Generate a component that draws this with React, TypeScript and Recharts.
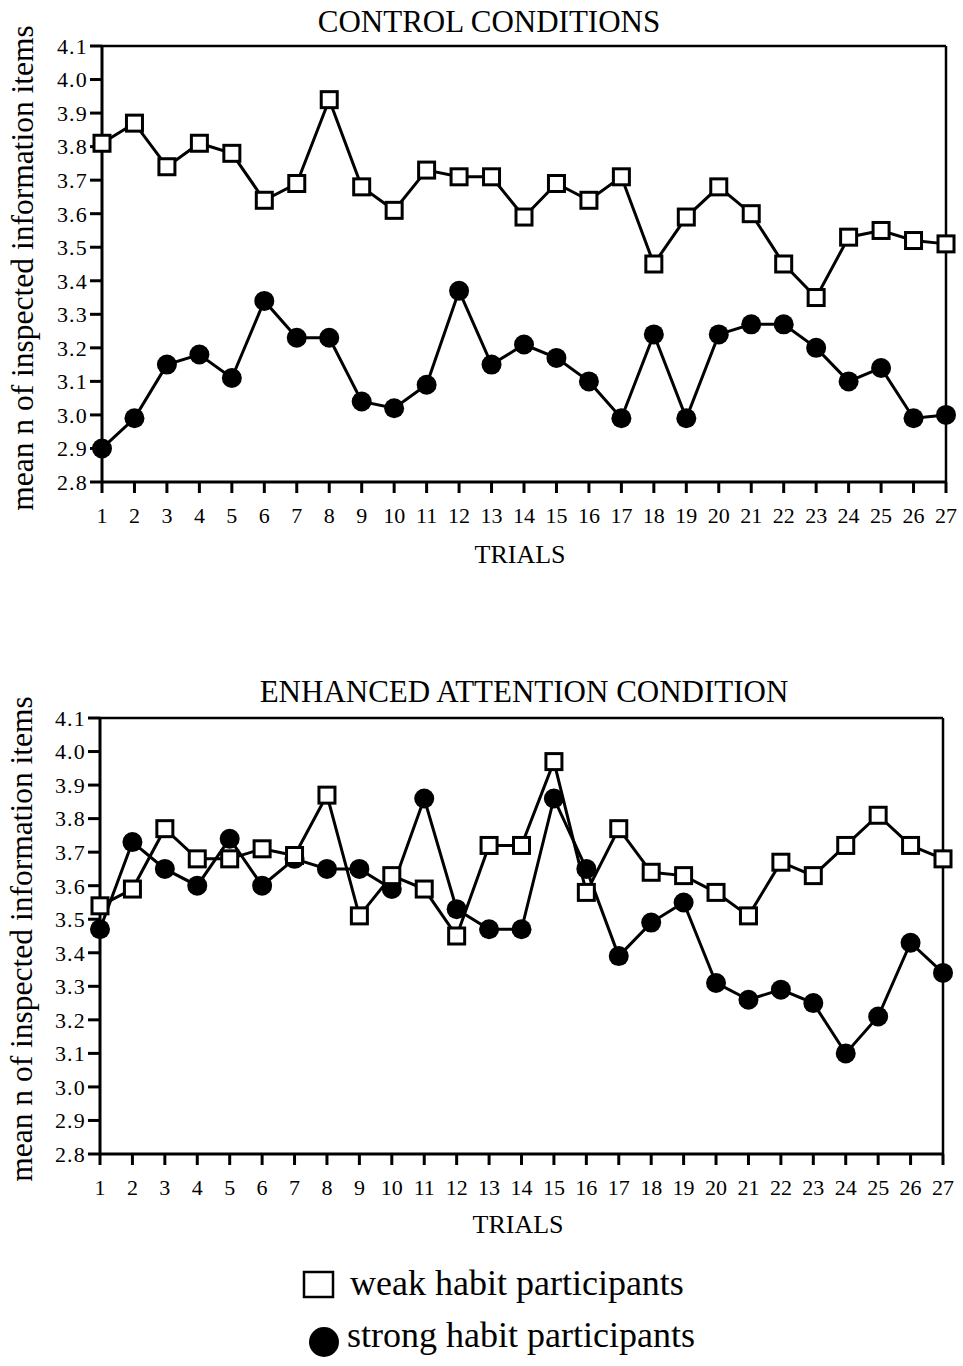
import React from 'react';
import { LineChart, Line, XAxis, YAxis, ReferenceLine } from 'recharts';

const trials = [1, 2, 3, 4, 5, 6, 7, 8, 9, 10, 11, 12, 13, 14, 15, 16, 17, 18, 19, 20, 21, 22, 23, 24, 25, 26, 27];
const yTicks = [2.8, 2.9, 3.0, 3.1, 3.2, 3.3, 3.4, 3.5, 3.6, 3.7, 3.8, 3.9, 4.0, 4.1];

const controlWeak = [3.81, 3.87, 3.74, 3.81, 3.78, 3.64, 3.69, 3.94, 3.68, 3.61, 3.73, 3.71, 3.71, 3.59, 3.69, 3.64, 3.71, 3.45, 3.59, 3.68, 3.60, 3.45, 3.35, 3.53, 3.55, 3.52, 3.51];
const controlStrong = [2.90, 2.99, 3.15, 3.18, 3.11, 3.34, 3.23, 3.23, 3.04, 3.02, 3.09, 3.37, 3.15, 3.21, 3.17, 3.10, 2.99, 3.24, 2.99, 3.24, 3.27, 3.27, 3.20, 3.10, 3.14, 2.99, 3.00];
const attentionWeak = [3.54, 3.59, 3.77, 3.68, 3.68, 3.71, 3.69, 3.87, 3.51, 3.63, 3.59, 3.45, 3.72, 3.72, 3.97, 3.58, 3.77, 3.64, 3.63, 3.58, 3.51, 3.67, 3.63, 3.72, 3.81, 3.72, 3.68];
const attentionStrong = [3.47, 3.73, 3.65, 3.60, 3.74, 3.60, 3.68, 3.65, 3.65, 3.59, 3.86, 3.53, 3.47, 3.47, 3.86, 3.65, 3.39, 3.49, 3.55, 3.31, 3.26, 3.29, 3.25, 3.10, 3.21, 3.43, 3.34];

const topTitle = 'CONTROL CONDITIONS';
const bottomTitle = 'ENHANCED ATTENTION CONDITION';
const yLabel = 'mean n of inspected information items';
const xLabel = 'TRIALS';
const weakName = 'weak habit participants';
const strongName = 'strong habit participants';

const FONT = "'Liberation Serif', 'Times New Roman', Times, serif";

function SquareDot(props: any) {
  const { cx, cy, index } = props;
  if (cx == null || cy == null) return <g key={`sq-${index}`} />;
  return (
    <rect
      key={`sq-${index}`}
      x={cx - 8}
      y={cy - 8}
      width={16}
      height={16}
      fill="#fff"
      stroke="#000"
      strokeWidth={3}
    />
  );
}

type PanelProps = {
  weak: number[];
  strong: number[];
  height: number;
  margin: { top: number; right: number; bottom: number; left: number };
};

function Panel({ weak, strong, height, margin }: PanelProps) {
  const data = trials.map((t, i) => ({ trial: t, weak: weak[i], strong: strong[i] }));
  return (
    <LineChart width={963} height={height} data={data} margin={margin}>
      <XAxis
        dataKey="trial"
        type="number"
        domain={[1, 27]}
        ticks={trials}
        interval={0}
        height={40}
        tickSize={11}
        tickMargin={14}
        axisLine={{ stroke: '#000', strokeWidth: 3 }}
        tickLine={{ stroke: '#000', strokeWidth: 3 }}
        tick={{ fill: '#000', fontSize: 22, fontFamily: FONT }}
      />
      <YAxis
        type="number"
        domain={[2.8, 4.1]}
        ticks={yTicks}
        interval={0}
        width={60}
        tickSize={12}
        tickMargin={2}
        tickFormatter={(v: number) => v.toFixed(1)}
        axisLine={{ stroke: '#000', strokeWidth: 3 }}
        tickLine={{ stroke: '#000', strokeWidth: 3 }}
        tick={{ fill: '#000', fontSize: 22, fontFamily: FONT, letterSpacing: 1.2 }}
      />
      <ReferenceLine y={4.1} stroke="#000" strokeWidth={2.5} />
      <ReferenceLine x={27} stroke="#000" strokeWidth={2.5} />
      <Line
        dataKey="strong"
        type="linear"
        stroke="#000"
        strokeWidth={3}
        dot={{ r: 10, fill: '#000', stroke: '#000', strokeWidth: 0 }}
        isAnimationActive={false}
      />
      <Line
        dataKey="weak"
        type="linear"
        stroke="#000"
        strokeWidth={3}
        dot={SquareDot}
        isAnimationActive={false}
      />
    </LineChart>
  );
}

export default function App() {
  return (
    <div style={{ position: 'absolute', left: 0, top: 0, width: 963, height: 1366, background: '#fff', overflow: 'hidden' }}>
      <div style={{ position: 'absolute', left: 0, top: 0 }}>
        <Panel
          weak={controlWeak}
          strong={controlStrong}
          height={600}
          margin={{ top: 46, right: 17, bottom: 78, left: 42 }}
        />
      </div>
      <div style={{ position: 'absolute', left: 0, top: 600 }}>
        <Panel
          weak={attentionWeak}
          strong={attentionStrong}
          height={620}
          margin={{ top: 118, right: 20, bottom: 26, left: 40 }}
        />
      </div>
      <svg
        width={963}
        height={1366}
        style={{ position: 'absolute', left: 0, top: 0, pointerEvents: 'none' }}
        fontFamily={FONT}
      >
        <text x={489} y={32} fontSize={31} textAnchor="middle" fill="#000">{topTitle}</text>
        <text x={33} y={268} fontSize={31.5} textAnchor="middle" fill="#000" transform="rotate(-90, 33, 268)">{yLabel}</text>
        <text x={520} y={563} fontSize={26} textAnchor="middle" fill="#000">{xLabel}</text>

        <text x={524} y={702} fontSize={31} textAnchor="middle" fill="#000">{bottomTitle}</text>
        <text x={32} y={939} fontSize={31.5} textAnchor="middle" fill="#000" transform="rotate(-90, 32, 939)">{yLabel}</text>
        <text x={518} y={1233} fontSize={26} textAnchor="middle" fill="#000">{xLabel}</text>

        <rect x={304} y={1272} width={29} height={25} fill="#fff" stroke="#000" strokeWidth={2.5} />
        <text x={350} y={1295} fontSize={36} fill="#000">{weakName}</text>
        <circle cx={324} cy={1342} r={15} fill="#000" />
        <text x={347} y={1347} fontSize={36} fill="#000">{strongName}</text>
      </svg>
    </div>
  );
}
